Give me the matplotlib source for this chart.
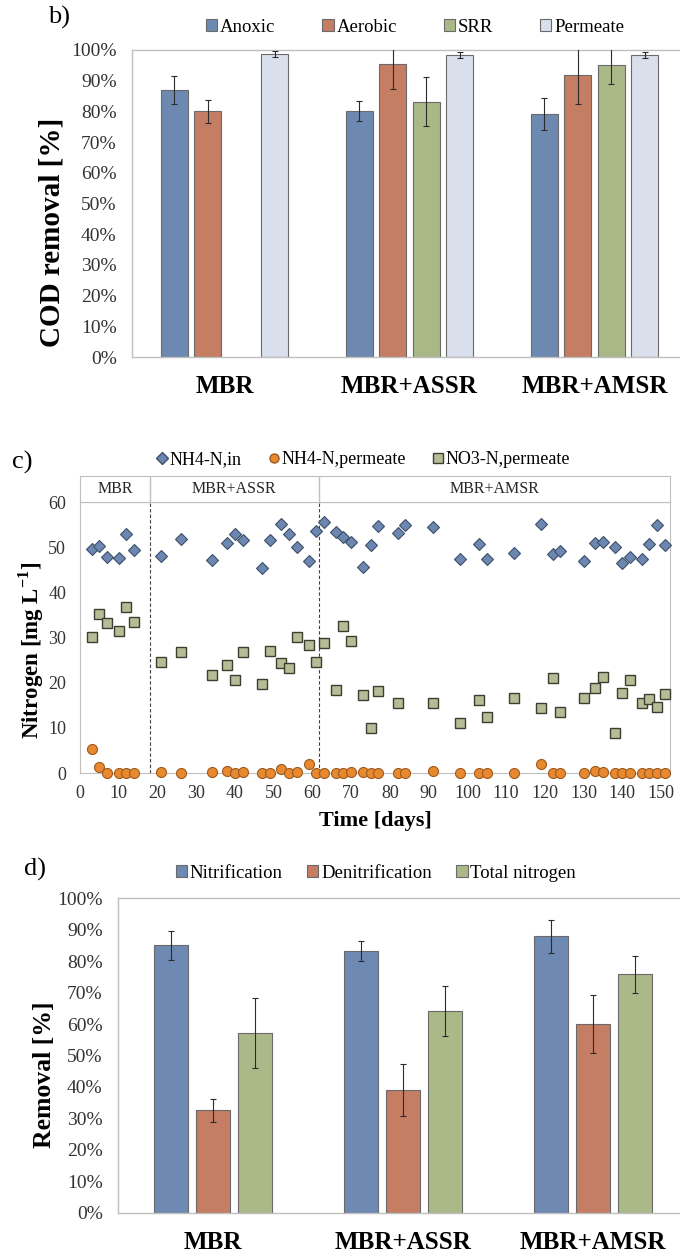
import numpy as np
import matplotlib
matplotlib.use('Agg')
import matplotlib.pyplot as plt
from matplotlib.patches import Patch
from matplotlib.lines import Line2D
from matplotlib.ticker import FuncFormatter

#=========================================================================
# panel b: COD removal [%]
groups = ['MBR', 'MBR+ASSR', 'MBR+AMSR']
cod_labels = ['Anoxic', 'Aerobic', 'SRR', 'Permeate']
cod_anoxic = [87.0, 80.1, 79.2]
cod_anoxic_err = [4.5, 3.2, 5.2]
cod_aerobic = [80.0, 95.4, 91.9]
cod_aerobic_err = [3.7, 8.2, 9.5]
cod_srr = [np.nan, 83.2, 95.0]
cod_srr_err = [np.nan, 8.0, 6.2]
cod_permeate = [98.6, 98.3, 98.3]
cod_permeate_err = [1.0, 1.0, 1.0]

# panel c: nitrogen over time
days = [3, 5, 7, 10, 12, 14, 21, 26, 34, 38, 40, 42, 47, 49, 52, 54, 56, 59,
        61, 63, 66, 68, 70, 73, 75, 77, 82, 84, 91, 98, 103, 105, 112, 119,
        122, 124, 130, 133, 135, 138, 140, 142, 145, 147, 149, 151]
nh4_in = [49.6, 50.3, 47.9, 47.6, 53.0, 49.3, 48.0, 51.8, 47.1, 51.0, 52.9,
          51.5, 45.4, 51.6, 55.2, 53.0, 50.1, 47.0, 53.6, 55.6, 53.4, 52.3,
          51.1, 45.6, 50.4, 54.6, 53.2, 54.8, 54.4, 47.3, 50.7, 47.3, 48.6,
          55.2, 48.5, 49.1, 47.0, 51.0, 51.1, 50.0, 46.6, 47.9, 47.3, 50.6,
          55.0, 50.5]
nh4_perm = [5.4, 1.3, 0.0, 0.0, 0.0, 0.0, 0.3, 0.0, 0.3, 0.4, 0.1, 0.2, 0.1,
            0.1, 0.8, 0.0, 0.3, 1.9, 0.0, 0.0, 0.1, 0.1, 0.3, 0.2, 0.0, 0.0,
            0.1, 0.1, 0.4, 0.0, 0.0, 0.1, 0.0, 2.1, 0.0, 0.0, 0.0, 0.4, 0.3,
            0.0, 0.0, 0.0, 0.0, 0.1, 0.0, 0.0]
no3_perm = [30.2, 35.2, 33.3, 31.5, 36.8, 33.4, 24.5, 26.7, 21.7, 23.9, 20.5,
            26.7, 19.6, 27.0, 24.4, 23.3, 30.1, 28.4, 24.5, 28.7, 18.4, 32.5,
            29.2, 17.3, 9.9, 18.1, 15.5, np.nan, 15.4, 11.0, 16.2, 12.3, 16.7,
            14.4, 21.1, 13.4, 16.7, 18.9, 21.2, 8.8, 17.8, 20.7, 15.5, 16.4,
            14.7, 17.6]
phase_names = ['MBR', 'MBR+ASSR', 'MBR+AMSR']
phase_edges = [0, 18, 61.7, 152.3]

# panel d: nitrogen removal [%]
n_labels = ['Nitrification', 'Denitrification', 'Total nitrogen']
nitrification = [85.1, 83.2, 87.9]
nitrification_err = [4.6, 3.3, 5.2]
denitrification = [32.6, 39.0, 60.0]
denitrification_err = [3.6, 8.2, 9.3]
total_n = [57.1, 64.1, 75.8]
total_n_err = [11.2, 8.0, 6.0]

#=========================================================================
plt.rcParams['font.family'] = ['Liberation Serif', 'DejaVu Serif']
plt.rcParams['mathtext.fontset'] = 'custom'
plt.rcParams['mathtext.rm'] = 'Liberation Serif'
plt.rcParams['mathtext.bf'] = 'Liberation Serif:bold'

W, H = 680, 1258
fig = plt.figure(figsize=(W / 100, H / 100), dpi=100)

def fx(px):
  return px / W

def fy(py):
  return 1 - py / H

spine_col = '#bfbfbf'
edge_col = '#6a6a6a'
err_col = '#2b2b2b'
pct = FuncFormatter(lambda v, p: '%d%%' % v)


def bar_panel(rect, series, errs, colors, slot, width, cat_pad):
  ax = fig.add_axes(rect)
  x = np.arange(len(groups))
  n = len(series)
  for i in range(n):
    xs = x + (i - (n - 1) / 2) * slot
    ax.bar(xs, series[i], width, color=colors[i], edgecolor=edge_col,
           linewidth=0.8, zorder=2)
    ax.errorbar(xs, series[i], yerr=errs[i], fmt='none', ecolor=err_col,
                elinewidth=0.8, capsize=2.5, capthick=0.8, zorder=3)
  ax.set_xlim(-0.5, len(groups) - 0.5)
  ax.set_ylim(0, 100)
  ax.set_yticks(np.arange(0, 101, 10))
  ax.yaxis.set_major_formatter(pct)
  ax.set_xticks(x)
  ax.set_xticklabels(groups, fontsize=18, fontweight='bold')
  ax.tick_params(axis='y', length=0, pad=11, labelsize=14, labelcolor='#333333')
  ax.tick_params(axis='x', length=0, pad=cat_pad, colors='black')
  for s in ['top', 'left', 'bottom', 'right']:
    ax.spines[s].set_color(spine_col)
    ax.spines[s].set_linewidth(1.0)
  return ax

# ---- panel b
b_colors = ['#6d89b1', '#c57d63', '#aab888', '#d9e0ec']
b_rect = [fx(132), fy(357), fx(555), fy(50) - fy(357)]
axb = bar_panel(b_rect,
                [cod_anoxic, cod_aerobic, cod_srr, cod_permeate],
                [cod_anoxic_err, cod_aerobic_err, cod_srr_err, cod_permeate_err],
                b_colors, 0.181, 0.146, 13)
fig.text(fx(52), fy(232), 'COD removal [%]', rotation=90, ha='center',
         va='center', fontsize=21, fontweight='bold')
fig.text(fx(59), fy(17), 'b)', ha='center', va='center', fontsize=19)
hb = [Patch(facecolor=c, edgecolor=edge_col, linewidth=0.8) for c in b_colors]
fig.legend(hb, cod_labels, loc='center', bbox_to_anchor=(fx(415), fy(27)),
           ncol=4, frameon=False, handlelength=0.6, handleheight=0.6,
           handletextpad=0.15, columnspacing=2.5, fontsize=13.5,
           borderpad=0, borderaxespad=0)

# ---- panel c
c_left, c_right, c_bot, c_top, band_top = 80, 670, 773, 502, 476
axc = fig.add_axes([fx(c_left), fy(c_bot), fx(c_right - c_left),
                    fy(c_top) - fy(c_bot)])
axc.plot(days, nh4_in, linestyle='none', marker='D', markersize=6.3,
         markerfacecolor='#6c87b0', markeredgecolor='#3f506b',
         markeredgewidth=0.8, clip_on=False, zorder=3)
axc.plot(days, nh4_perm, linestyle='none', marker='o', markersize=7.2,
         markerfacecolor='#e8892f', markeredgecolor='#9c5a1f',
         markeredgewidth=0.8, clip_on=False, zorder=3)
axc.plot(days, no3_perm, linestyle='none', marker='s', markersize=6.8,
         markerfacecolor='#b4bd95', markeredgecolor='#3e3e30',
         markeredgewidth=1.0, clip_on=False, zorder=3)
for xe in phase_edges[1:-1]:
  axc.axvline(xe, color='#404040', linewidth=0.8, linestyle=(0, (3, 2)),
              zorder=1)
axc.set_xlim(phase_edges[0], phase_edges[-1])
axc.set_ylim(0, 60)
axc.set_xticks(np.arange(0, 151, 10))
axc.set_yticks(np.arange(0, 61, 10))
axc.tick_params(length=0, labelsize=13, colors='#333333')
axc.tick_params(axis='x', pad=9)
axc.tick_params(axis='y', pad=10)
for s in ['top', 'left', 'bottom', 'right']:
  axc.spines[s].set_color(spine_col)
axc.set_xlabel('Time [days]', fontsize=16, fontweight='bold', labelpad=6)
fig.text(fx(31), fy(650), 'Nitrogen [mg L$^{\\mathbf{-1}}$]', rotation=90,
         ha='center', va='center', fontsize=16.5, fontweight='bold')

axh = fig.add_axes([fx(c_left), fy(c_top), fx(c_right - c_left),
                    fy(band_top) - fy(c_top)])
axh.set_xlim(phase_edges[0], phase_edges[-1])
axh.set_ylim(0, 1)
axh.set_xticks([])
axh.set_yticks([])
for s in ['top', 'left', 'bottom', 'right']:
  axh.spines[s].set_color(spine_col)
for xe in phase_edges[1:-1]:
  axh.axvline(xe, color=spine_col, linewidth=1.0)
for i, name in enumerate(phase_names):
  xm = (phase_edges[i] + phase_edges[i + 1]) / 2
  axh.text(xm, 0.5, name, ha='center', va='center', fontsize=11.5,
           color='#262626')

fig.text(fx(22), fy(462), 'c)', ha='center', va='center', fontsize=19)
hc = [Line2D([], [], linestyle='none', marker='D', markersize=6,
             markerfacecolor='#6c87b0', markeredgecolor='#3f506b'),
      Line2D([], [], linestyle='none', marker='o', markersize=6.5,
             markerfacecolor='#e8892f', markeredgecolor='#9c5a1f'),
      Line2D([], [], linestyle='none', marker='s', markersize=6.5,
             markerfacecolor='#b4bd95', markeredgecolor='#3e3e30')]
fig.legend(hc, ['NH4-N,in', 'NH4-N,permeate', 'NO3-N,permeate'], loc='center',
           bbox_to_anchor=(fx(363), fy(460)), ncol=3, frameon=False,
           handlelength=0.7, handletextpad=0.1, columnspacing=1.4,
           fontsize=13, borderpad=0, borderaxespad=0)

# ---- panel d
d_colors = ['#6e8ab2', '#c57d64', '#abb989']
d_rect = [fx(118), fy(1212.7), fx(570), fy(898.3) - fy(1212.7)]
axd = bar_panel(d_rect,
                [nitrification, denitrification, total_n],
                [nitrification_err, denitrification_err, total_n_err],
                d_colors, 0.221, 0.174, 13)
fig.text(fx(45), fy(1075), 'Removal [%]', rotation=90, ha='center',
         va='center', fontsize=18.5, fontweight='bold')
fig.text(fx(35), fy(869), 'd)', ha='center', va='center', fontsize=19)
hd = [Patch(facecolor=c, edgecolor=edge_col, linewidth=0.8) for c in d_colors]
fig.legend(hd, n_labels, loc='center', bbox_to_anchor=(fx(376), fy(873)),
           ncol=3, frameon=False, handlelength=0.6, handleheight=0.6,
           handletextpad=0.15, columnspacing=1.3, fontsize=13.5,
           borderpad=0, borderaxespad=0)

fig.savefig('out.png', dpi=100)
